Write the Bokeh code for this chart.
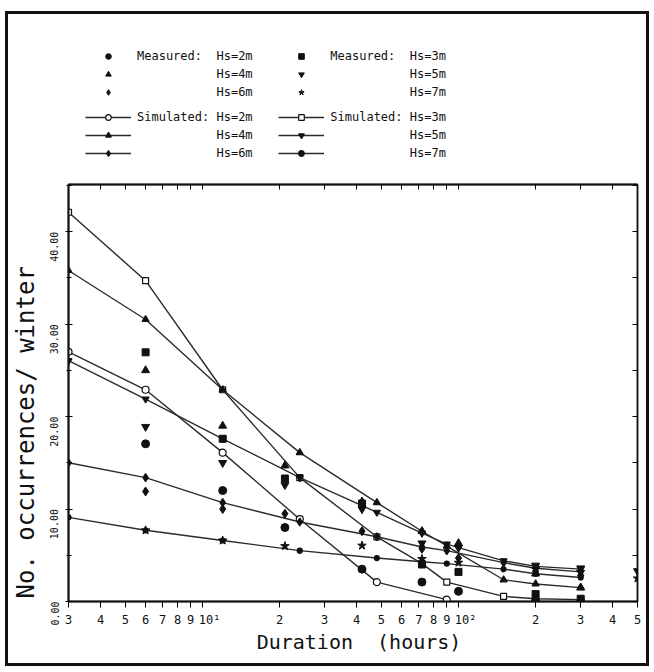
import math
from bokeh.plotting import figure
from bokeh.layouts import column
from bokeh.models import (Range1d, FixedTicker, LogAxis, LinearAxis, Legend,
                          LegendItem, Title, CustomJSTickFormatter)
from bokeh.embed import file_html
from bokeh.resources import INLINE

# ---------------- data ----------------
sim_x = [3, 6, 12, 24, 48, 72, 90, 150, 200, 300]
sim_2m_x = [3, 6, 12, 24, 48, 90]
sim_2m = [27.0, 22.9, 16.1, 8.9, 2.1, 0.2]
sim_3m = [42.1, 34.7, 22.9, 13.4, 7.0, 4.1, 2.1, 0.55, 0.3, 0.2]
sim_4m = [35.8, 30.5, 22.9, 16.1, 10.7, 7.6, 6.0, 2.35, 1.9, 1.5]
sim_5m = [26.05, 21.9, 17.6, 13.4, 9.65, 7.4, 6.2, 4.4, 3.8, 3.5]
sim_6m = [15.0, 13.4, 10.7, 8.6, 7.0, 5.9, 5.5, 4.2, 3.6, 3.2]
sim_7m = [9.1, 7.7, 6.6, 5.5, 4.7, 4.3, 4.1, 3.5, 3.0, 2.6]

nan = float("nan")
meas_x = [6, 12, 21, 42, 72, 100, 200, 300, 500]
meas_2m = [17.05, 12.0, 8.0, 3.5, 2.1, 1.1, 0.1, 0.0, nan]
meas_3m = [26.95, 17.6, 13.3, 10.6, 4.0, 3.2, 0.8, 0.3, nan]
meas_4m = [25.0, 19.0, 14.7, 10.8, 7.6, 6.3, 3.0, 1.5, nan]
meas_5m = [18.9, 15.0, 12.6, 10.0, 6.3, 5.8, 3.9, 3.6, 3.3]
meas_6m = [11.9, 10.0, 9.5, 7.6, 5.7, 4.7, 3.3, 2.8, nan]
meas_7m = [7.7, 6.6, 6.0, 6.05, 4.6, 4.2, 3.5, 3.2, 2.5]

x_ticks = [3, 4, 5, 6, 7, 8, 9, 10, 20, 30, 40, 50, 60, 70, 80, 90, 100, 200, 300, 400, 500]
x_tick_labels = ["3", "4", "5", "6", "7", "8", "9", "\u00a0\u00a010\u00b9",
                 "2", "3", "4", "5", "6", "7", "8", "9", "\u00a0\u00a010\u00b2",
                 "2", "3", "4", "5"]
y_ticks = [0, 10, 20, 30, 40]
y_minor = [5, 15, 25, 35, 45]
y_tick_labels = ["0.00", "10.00", "20.00", "30.00", "40.00"]

FONT = "DejaVu Sans Mono"
INK = "#111111"
LINE = "#2b2b2b"

# ---------------- main plot ----------------
p = figure(width=638, height=483, x_axis_type="log",
           x_range=Range1d(3, 500), y_range=Range1d(0, 45.1),
           output_backend="svg", toolbar_location=None,
           min_border_left=60, min_border_right=9,
           min_border_top=4, min_border_bottom=62)
p.grid.visible = False
p.outline_line_color = INK
p.outline_line_width = 1.5
p.background_fill_color = "white"
p.border_fill_color = "white"

xa = p.xaxis[0]
xa.ticker = FixedTicker(ticks=x_ticks, minor_ticks=[])
xa.major_label_overrides = dict(zip(x_ticks, x_tick_labels))
xa.major_tick_in = 0
xa.major_tick_out = 6
xa.minor_tick_in = 0
xa.minor_tick_out = 0
xa.major_label_standoff = 5
xa.major_label_text_font = FONT
xa.major_label_text_font_size = "12px"
xa.major_label_text_color = INK
xa.axis_label = "\u00a0Duration\u00a0\u00a0(hours)"
xa.axis_label_text_font = FONT
xa.axis_label_text_font_size = "20px"
xa.axis_label_text_font_style = "normal"
xa.axis_label_text_color = INK
xa.axis_label_standoff = 0
xa.axis_line_color = INK
xa.axis_line_width = 2

ya = p.yaxis[0]
ya.ticker = FixedTicker(ticks=y_ticks, minor_ticks=y_minor)
ya.major_label_overrides = dict(zip(y_ticks, y_tick_labels))
ya.major_label_orientation = math.pi / 2
ya.major_tick_in = 4
ya.major_tick_out = 3
ya.minor_tick_in = 3
ya.minor_tick_out = 2
ya.major_label_standoff = 11
ya.major_label_text_font = FONT
ya.major_label_text_font_size = "10px"
ya.major_label_text_color = INK
ya.axis_line_color = INK
ya.axis_line_width = 2

ta = LogAxis(ticker=FixedTicker(ticks=x_ticks, minor_ticks=[]),
             formatter=CustomJSTickFormatter(code="return ''"),
             major_tick_in=5, major_tick_out=0, minor_tick_in=0, minor_tick_out=0,
             major_label_standoff=0, major_label_text_font_size="1px",
             axis_line_color=INK, axis_line_width=2)
p.add_layout(ta, "above")

ra = LinearAxis(ticker=FixedTicker(ticks=y_ticks + y_minor, minor_ticks=[]),
                formatter=CustomJSTickFormatter(code="return ''"),
                major_tick_in=5, major_tick_out=0, minor_tick_in=0, minor_tick_out=0,
                major_label_standoff=0, major_label_text_font_size="1px",
                axis_line_color=INK, axis_line_width=1.5)
p.add_layout(ra, "right")

p.add_layout(Title(text="No. occurrences/ winter", align="left", offset=3,
                   vertical_align="top",
                   text_font=FONT, text_font_size="24px", text_font_style="normal",
                   text_color=INK, standoff=4), "left")

# ---------------- legend panel (same styles, data kept out of its view) ----------------
lf = figure(width=638, height=166, x_range=Range1d(0, 1), y_range=Range1d(0, 1),
            x_axis_location=None, y_axis_location=None,
            output_backend="svg", toolbar_location=None, min_border=0)
lf.grid.visible = False
lf.outline_line_color = None
lf.border_fill_color = "white"

sim_specs = [
    ("2m", sim_2m_x, sim_2m, "circle", 7, "white"),
    ("3m", sim_x, sim_3m, "square", 6, "white"),
    ("4m", sim_x, sim_4m, "triangle", 7, INK),
    ("5m", sim_x, sim_5m, "inverted_triangle", 7, INK),
    ("6m", sim_x, sim_6m, "diamond", 8, INK),
    ("7m", sim_x, sim_7m, "circle", 5, INK),
]
meas_specs = [
    ("2m", meas_2m, "circle", 8),
    ("3m", meas_3m, "square", 7),
    ("4m", meas_4m, "triangle", 8),
    ("5m", meas_5m, "inverted_triangle", 8),
    ("6m", meas_6m, "diamond", 9),
    ("7m", meas_7m, "star", 9),
]

sim_items = {}
for name, xs, ys, mk, sz, fill in sim_specs:
    for fig in (p, lf):
        lr = fig.line(xs, ys, line_color=LINE, line_width=1.4)
        sr = fig.scatter(xs, ys, marker=mk, size=sz, fill_color=fill,
                         line_color=INK, line_width=1.2)
    sim_items[name] = [lr, sr]

meas_items = {}
for name, ys, mk, sz in meas_specs:
    for fig in (p, lf):
        r = fig.scatter(meas_x, ys, marker=mk, size=sz, fill_color=INK, line_color=INK)
    meas_items[name] = [r]

NB = "\u00a0"
pad = NB * 3
meas_labels = {
    "2m": "Measured:" + NB * 2 + "Hs=2m" + pad,
    "4m": NB * 11 + "Hs=4m" + pad,
    "6m": NB * 11 + "Hs=6m" + pad,
    "3m": "Measured:" + NB * 2 + "Hs=3m",
    "5m": NB * 11 + "Hs=5m",
    "7m": NB * 11 + "Hs=7m",
}
sim_labels = {
    "2m": "Simulated:" + NB + "Hs=2m" + pad,
    "4m": NB * 11 + "Hs=4m" + pad,
    "6m": NB * 11 + "Hs=6m" + pad,
    "3m": "Simulated:" + NB + "Hs=3m",
    "5m": NB * 11 + "Hs=5m",
    "7m": NB * 11 + "Hs=7m",
}
order = ["2m", "4m", "6m", "3m", "5m", "7m"]


def make_legend(items, labels, loc):
    return Legend(items=[LegendItem(label=labels[k], renderers=items[k]) for k in order],
                  ncols=2, orientation="vertical", location=loc,
                  glyph_width=46, glyph_height=14, label_height=14,
                  label_standoff=6, spacing=4, padding=0, margin=0,
                  label_text_font=FONT, label_text_font_size="12px",
                  label_text_color=INK, border_line_alpha=0,
                  background_fill_alpha=0)


lf.add_layout(make_legend(meas_items, meas_labels, (17, 81)))
lf.add_layout(make_legend(sim_items, sim_labels, (17, 20)))

layout = column(lf, p, spacing=0,
                styles={"border": "3px solid #111", "margin": "11px 0 0 5px"})

open("out.html", "w").write(file_html(layout, INLINE))
